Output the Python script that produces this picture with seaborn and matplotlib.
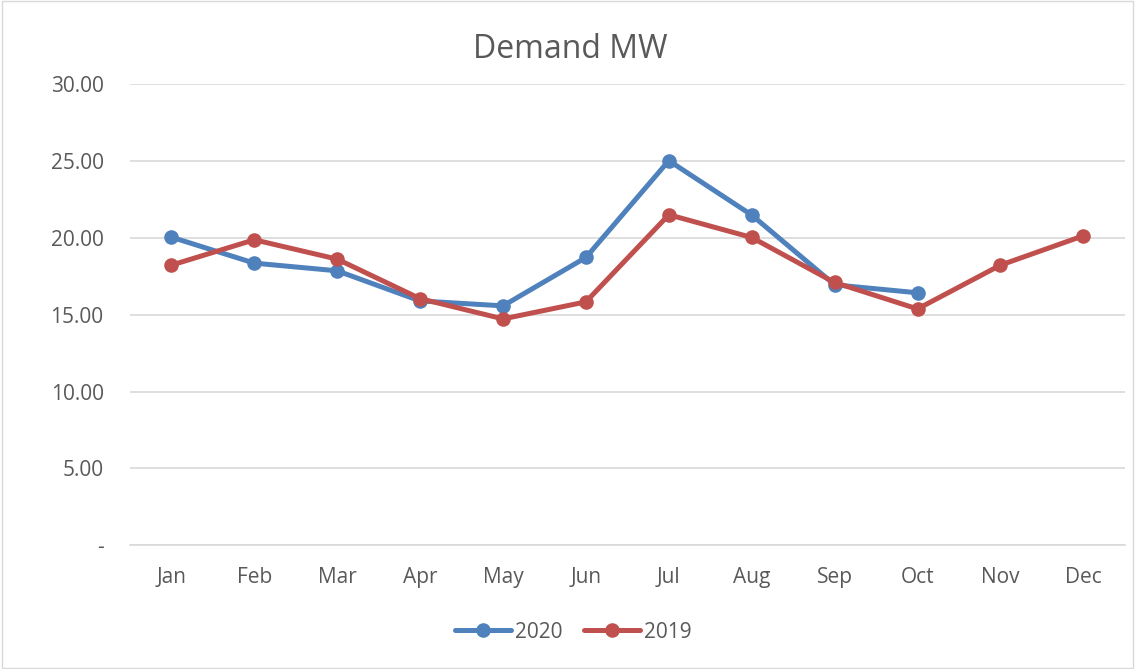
import matplotlib
matplotlib.use("Agg")
import matplotlib.pyplot as plt
import seaborn as sns
import pandas as pd
import numpy as np
from matplotlib.lines import Line2D

months = ["Jan", "Feb", "Mar", "Apr", "May", "Jun", "Jul", "Aug", "Sep", "Oct", "Nov", "Dec"]
demand_2020 = [20.05, 18.36, 17.86, 15.90, 15.58, 18.73, 25.03, 21.49, 16.95, 16.43, np.nan, np.nan]
demand_2019 = [18.23, 19.88, 18.62, 16.05, 14.73, 15.84, 21.51, 20.03, 17.10, 15.38, 18.23, 20.14]
series_names = ["2020", "2019"]
y_ticks = [0, 5, 10, 15, 20, 25, 30]
y_tick_labels = ["-", "5.00", "10.00", "15.00", "20.00", "25.00", "30.00"]

df = pd.DataFrame({
    "Month": months * 2,
    "x": list(range(len(months))) * 2,
    "Demand": demand_2020 + demand_2019,
    "Year": [series_names[0]] * len(months) + [series_names[1]] * len(months),
})

sns.set_theme(style="white")
plt.rcParams["font.family"] = ["Open Sans", "DejaVu Sans"]

fig = plt.figure(figsize=(11.35, 6.69), dpi=100)
ax = fig.add_axes([0.1145, 0.185, 0.8765, 0.689])

palette = {"2020": "#4F81BD", "2019": "#C0504D"}
sns.lineplot(data=df, x="x", y="Demand", hue="Year", hue_order=series_names,
             palette=palette, marker="o", markersize=10.5, linewidth=3.6,
             markeredgewidth=0, ax=ax, legend=False)

ax.set_xlim(-0.5, 11.5)
ax.set_ylim(0, 30)
ax.set_yticks(y_ticks)
ax.set_yticklabels(y_tick_labels)
ax.set_xticks(range(len(months)))
ax.set_xticklabels(months)
ax.set_xlabel("")
ax.set_ylabel("")
ax.tick_params(axis="both", colors="#595959", labelsize=15, length=0)
ax.tick_params(axis="y", pad=19)
ax.tick_params(axis="x", pad=16)
ax.grid(axis="y", color="#D9D9D9", linewidth=1.2)
ax.set_axisbelow(True)
for s in ["top", "right", "left"]:
    ax.spines[s].set_visible(False)
ax.spines["bottom"].set_color("#D9D9D9")
ax.spines["bottom"].set_linewidth(1.2)

fig.text(0.502, 0.926, "Demand MW", ha="center", va="center", fontsize=23, color="#595959")

handles = [Line2D([], [], color=palette[n], marker="o", markersize=10.5, linewidth=3.6,
                  markeredgewidth=0) for n in series_names]
fig.legend(handles, series_names, loc="center", bbox_to_anchor=(0.505, 0.055), ncol=2,
           frameon=False, fontsize=15, labelcolor="#595959", handlelength=2.7,
           columnspacing=1.0, handletextpad=0.2)

border = plt.Rectangle((0.002, 0.002), 0.996, 0.996, transform=fig.transFigure,
                       fill=False, edgecolor="#D9D9D9", linewidth=1)
fig.patches.append(border)

fig.savefig("out.png", dpi=100)
